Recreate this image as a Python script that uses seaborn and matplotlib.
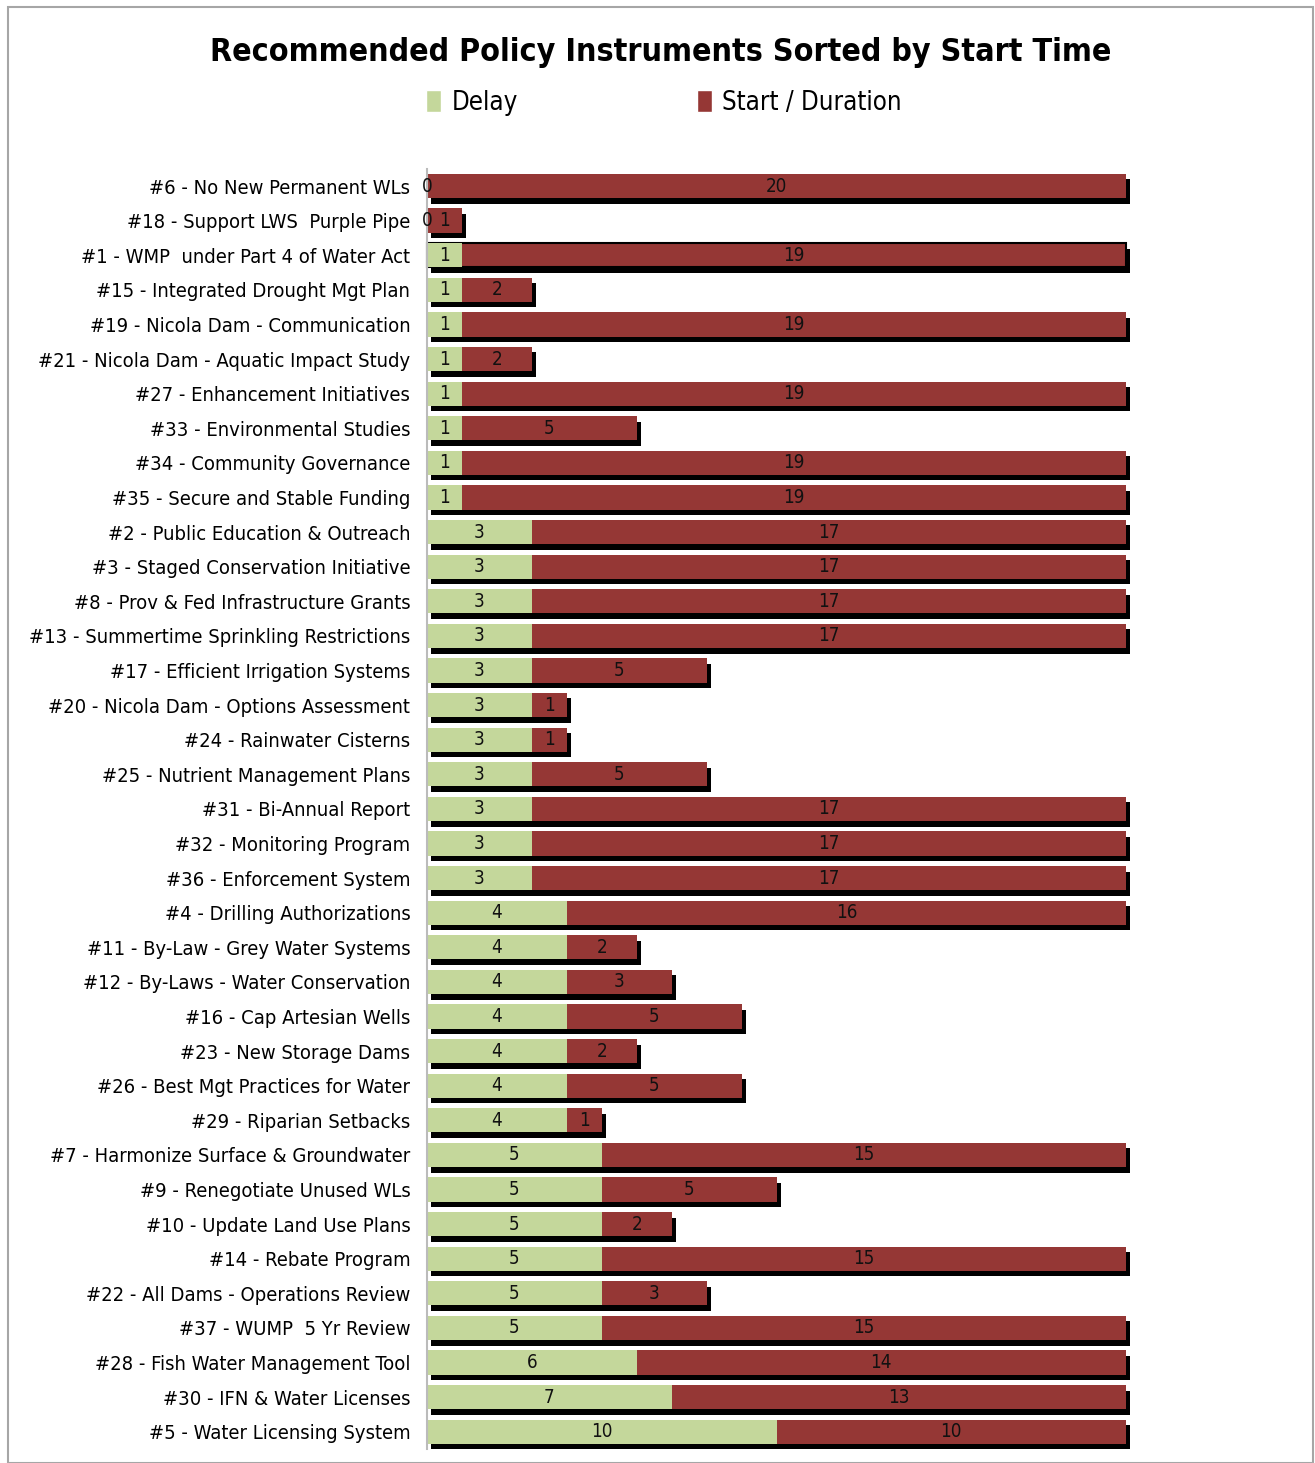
import matplotlib
matplotlib.use("Agg")
import matplotlib.pyplot as plt
import matplotlib.patheffects as pe
from matplotlib.patches import Rectangle, Patch
import seaborn as sns
import pandas as pd

instruments = [
    "#6 - No New Permanent WLs",
    "#18 - Support LWS  Purple Pipe",
    "#1 - WMP  under Part 4 of Water Act",
    "#15 - Integrated Drought Mgt Plan",
    "#19 - Nicola Dam - Communication",
    "#21 - Nicola Dam - Aquatic Impact Study",
    "#27 - Enhancement Initiatives",
    "#33 - Environmental Studies",
    "#34 - Community Governance",
    "#35 - Secure and Stable Funding",
    "#2 - Public Education & Outreach",
    "#3 - Staged Conservation Initiative",
    "#8 - Prov & Fed Infrastructure Grants",
    "#13 - Summertime Sprinkling Restrictions",
    "#17 - Efficient Irrigation Systems",
    "#20 - Nicola Dam - Options Assessment",
    "#24 - Rainwater Cisterns",
    "#25 - Nutrient Management Plans",
    "#31 - Bi-Annual Report",
    "#32 - Monitoring Program",
    "#36 - Enforcement System",
    "#4 - Drilling Authorizations",
    "#11 - By-Law - Grey Water Systems",
    "#12 - By-Laws - Water Conservation",
    "#16 - Cap Artesian Wells",
    "#23 - New Storage Dams",
    "#26 - Best Mgt Practices for Water",
    "#29 - Riparian Setbacks",
    "#7 - Harmonize Surface & Groundwater",
    "#9 - Renegotiate Unused WLs",
    "#10 - Update Land Use Plans",
    "#14 - Rebate Program",
    "#22 - All Dams - Operations Review",
    "#37 - WUMP  5 Yr Review",
    "#28 - Fish Water Management Tool",
    "#30 - IFN & Water Licenses",
    "#5 - Water Licensing System",
]
delay = [0, 0, 1, 1, 1, 1, 1, 1, 1, 1,
         3, 3, 3, 3, 3, 3, 3, 3, 3, 3, 3,
         4, 4, 4, 4, 4, 4, 4,
         5, 5, 5, 5, 5, 5,
         6, 7, 10]
duration = [20, 1, 19, 2, 19, 2, 19, 5, 19, 19,
            17, 17, 17, 17, 5, 1, 1, 5, 17, 17, 17,
            16, 2, 3, 5, 2, 5, 1,
            15, 5, 2, 15, 3, 15,
            14, 13, 10]

GREEN = "#C4D79B"
RED = "#953735"

df = pd.DataFrame({"instrument": instruments, "delay": delay, "duration": duration})
df["end"] = df["delay"] + df["duration"]

sns.set_theme(style="white")
plt.rcParams["font.family"] = ["Liberation Sans Narrow", "DejaVu Sans"]
plt.rcParams["font.stretch"] = "condensed"
plt.rcParams["text.color"] = "black"
plt.rcParams["ytick.color"] = "black"
plt.rcParams["ytick.labelcolor"] = "black"

fig = plt.figure(figsize=(13.15, 14.63), dpi=100)
ax = fig.add_axes([427 / 1315, 1 - 1449 / 1463, (1126 - 427) / 1315, (1449 - 168.7) / 1463])

sns.barplot(data=df, y="instrument", x="end", color=RED, saturation=1, width=0.7,
            orient="h", ax=ax, errorbar=None)
for p in ax.patches:
    p.set_path_effects([pe.SimplePatchShadow(offset=(3, -4), shadow_rgbFace="black", alpha=1), pe.Normal()])
    p.set_clip_on(False)
    p.set_edgecolor("none")
# highlighted outline on #1
ax.patches[2].set_edgecolor("black")
ax.patches[2].set_linewidth(1.5)
n_red = len(ax.patches)

sns.barplot(data=df, y="instrument", x="delay", color=GREEN, saturation=1, width=0.7,
            orient="h", ax=ax, errorbar=None)
for p in ax.patches[n_red:]:
    p.set_edgecolor("none")

for i, (d, r) in enumerate(zip(delay, duration)):
    ax.text(d / 2, i, str(d), ha="center", va="center", fontsize=13.5, color="#111111")
    ax.text(d + r / 2, i, str(r), ha="center", va="center", fontsize=13.5, color="#111111")

ax.set_xlim(0, 20)
ax.set_xlabel("")
ax.set_ylabel("")
ax.set_xticks([])
ax.tick_params(axis="y", length=0, pad=12, labelsize=14.5, labelcolor="black")
for s in ["top", "right", "bottom"]:
    ax.spines[s].set_visible(False)
ax.spines["left"].set_color("#BBBBBB")
ax.spines["left"].set_linewidth(1.5)

fig.text(661 / 1315, 1 - 52 / 1463, "Recommended Policy Instruments Sorted by Start Time",
         ha="center", va="center", fontsize=23, fontweight="bold", color="black")

handles = [Patch(facecolor=GREEN, label="Delay"), Patch(facecolor=RED, label="Start / Duration")]
leg = fig.legend(handles=handles, loc="center left", bbox_to_anchor=(426 / 1315, 1 - 103 / 1463),
                 ncol=2, frameon=False, fontsize=18.5, handlelength=0.6, handleheight=0.9,
                 handletextpad=0.4, columnspacing=6.95, borderpad=0, borderaxespad=0)
for t in leg.get_texts():
    t.set_color("black")

fig.patches.append(Rectangle((8 / 1315, 0), (1313 - 8) / 1315, 1 - 7 / 1463, transform=fig.transFigure,
                             fill=False, edgecolor="#A6A6A6", linewidth=1.5))

fig.savefig("out.png", dpi=100, facecolor="white")
